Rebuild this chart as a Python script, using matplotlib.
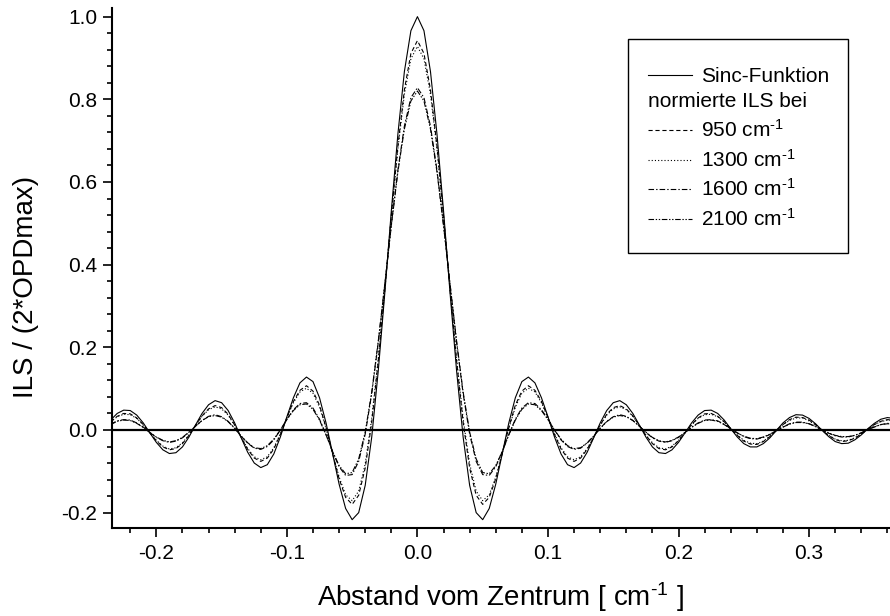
import numpy as np
import matplotlib
matplotlib.use("Agg")
import matplotlib.pyplot as plt
from matplotlib.ticker import MultipleLocator, FormatStrFormatter
from matplotlib.lines import Line2D
from matplotlib.patches import Rectangle

plt.rcParams["font.family"] = ["Liberation Sans", "DejaVu Sans"]
plt.rcParams["mathtext.fontset"] = "custom"
plt.rcParams["mathtext.rm"] = "Liberation Sans"
plt.rcParams["mathtext.it"] = "Liberation Sans:italic"
plt.rcParams["mathtext.default"] = "regular"
plt.rcParams["axes.unicode_minus"] = False
plt.rcParams["lines.scale_dashes"] = False

# distance from line centre [cm^-1], sampled every 0.005
x = np.linspace(-0.235, 0.365, 121)

sinc_vals = [
    0.024, 0.040, 0.048, 0.047, 0.036, 0.017, -0.007, -0.030, -0.048, -0.057,
    -0.055, -0.041, -0.017, 0.012, 0.040, 0.061, 0.071, 0.066, 0.047, 0.017,
    -0.019, -0.054, -0.080, -0.091, -0.084, -0.058, -0.017, 0.032, 0.078, 0.114,
    0.128, 0.117, 0.078, 0.017, -0.057, -0.131, -0.190, -0.217, -0.200, -0.134,
    -0.017, 0.143, 0.331, 0.530, 0.715, 0.867, 0.966, 1.000,
    0.966, 0.867, 0.715, 0.530, 0.331, 0.143, -0.017, -0.134, -0.200, -0.217,
    -0.190, -0.131, -0.057, 0.017, 0.078, 0.117, 0.128, 0.114, 0.078, 0.032,
    -0.017, -0.058, -0.084, -0.091, -0.080, -0.054, -0.019, 0.017, 0.047, 0.066,
    0.071, 0.061, 0.040, 0.012, -0.017, -0.041, -0.055, -0.057, -0.048, -0.030,
    -0.007, 0.017, 0.036, 0.047, 0.048, 0.040, 0.024,
    0.003, -0.017, -0.033, -0.041, -0.041, -0.033, -0.019, -0.001, 0.017, 0.030,
    0.037, 0.036, 0.028, 0.015, -0.001, -0.016, -0.028, -0.033, -0.032, -0.024,
    -0.012, 0.003, 0.016, 0.026, 0.030, 0.028,
]

ils_950 = [
    0.020, 0.033, 0.040, 0.039, 0.029, 0.013, -0.007, -0.026, -0.041, -0.048,
    -0.045, -0.033, -0.013, 0.011, 0.034, 0.051, 0.059, 0.054, 0.038, 0.012,
    -0.018, -0.047, -0.068, -0.076, -0.068, -0.046, -0.011, 0.030, 0.069, 0.096,
    0.107, 0.094, 0.060, 0.006, -0.057, -0.118, -0.163, -0.180, -0.158, -0.092,
    0.019, 0.167, 0.339, 0.519, 0.686, 0.823, 0.911, 0.942,
    0.911, 0.823, 0.686, 0.519, 0.339, 0.167, 0.019, -0.092, -0.158, -0.180,
    -0.163, -0.118, -0.057, 0.006, 0.060, 0.094, 0.107, 0.096, 0.069, 0.030,
    -0.011, -0.046, -0.068, -0.076, -0.068, -0.047, -0.018, 0.012, 0.038, 0.054,
    0.059, 0.051, 0.034, 0.011, -0.013, -0.033, -0.045, -0.048, -0.041, -0.026,
    -0.007, 0.013, 0.029, 0.039, 0.040, 0.033, 0.020,
    0.003, -0.013, -0.027, -0.034, -0.035, -0.028, -0.016, -0.001, 0.013, 0.025,
    0.031, 0.030, 0.024, 0.013, -0.001, -0.013, -0.023, -0.028, -0.026, -0.020,
    -0.010, 0.002, 0.013, 0.021, 0.025, 0.024,
]

ils_1300 = [
    0.019, 0.032, 0.038, 0.037, 0.028, 0.012, -0.006, -0.025, -0.039, -0.046,
    -0.043, -0.031, -0.012, 0.011, 0.033, 0.049, 0.056, 0.051, 0.036, 0.011,
    -0.018, -0.045, -0.065, -0.072, -0.065, -0.043, -0.009, 0.030, 0.066, 0.092,
    0.101, 0.089, 0.055, 0.004, -0.056, -0.114, -0.157, -0.171, -0.148, -0.082,
    0.028, 0.173, 0.341, 0.516, 0.679, 0.812, 0.898, 0.928,
    0.898, 0.812, 0.679, 0.516, 0.341, 0.173, 0.028, -0.082, -0.148, -0.171,
    -0.157, -0.114, -0.056, 0.004, 0.055, 0.089, 0.101, 0.092, 0.066, 0.030,
    -0.009, -0.043, -0.065, -0.072, -0.065, -0.045, -0.018, 0.011, 0.036, 0.051,
    0.056, 0.049, 0.033, 0.011, -0.012, -0.031, -0.043, -0.046, -0.039, -0.025,
    -0.006, 0.012, 0.028, 0.037, 0.038, 0.032, 0.019,
    0.003, -0.012, -0.025, -0.032, -0.033, -0.027, -0.015, -0.001, 0.013, 0.023,
    0.029, 0.029, 0.022, 0.012, -0.001, -0.013, -0.022, -0.026, -0.025, -0.019,
    -0.009, 0.002, 0.013, 0.020, 0.024, 0.022,
]

ils_1600 = [
    0.014, 0.022, 0.025, 0.024, 0.017, 0.007, -0.006, -0.018, -0.026, -0.030,
    -0.027, -0.019, -0.006, 0.009, 0.023, 0.033, 0.037, 0.032, 0.021, 0.004,
    -0.015, -0.032, -0.044, -0.047, -0.040, -0.024, 0.000, 0.026, 0.049, 0.064,
    0.066, 0.053, 0.026, -0.011, -0.052, -0.089, -0.110, -0.108, -0.076, -0.010,
    0.088, 0.212, 0.352, 0.496, 0.628, 0.735, 0.804, 0.828,
    0.804, 0.735, 0.628, 0.496, 0.352, 0.212, 0.088, -0.010, -0.076, -0.108,
    -0.110, -0.089, -0.052, -0.011, 0.026, 0.053, 0.066, 0.064, 0.049, 0.026,
    0.000, -0.024, -0.040, -0.047, -0.044, -0.032, -0.015, 0.004, 0.021, 0.032,
    0.037, 0.033, 0.023, 0.009, -0.006, -0.019, -0.027, -0.030, -0.026, -0.018,
    -0.006, 0.007, 0.017, 0.024, 0.025, 0.022, 0.014,
    0.003, -0.007, -0.016, -0.021, -0.022, -0.018, -0.011, -0.002, 0.007, 0.015,
    0.019, 0.019, 0.015, 0.009, 0.000, -0.008, -0.014, -0.017, -0.017, -0.013,
    -0.007, 0.001, 0.008, 0.013, 0.016, 0.015,
]

ils_2100 = [
    0.013, 0.021, 0.024, 0.023, 0.016, 0.006, -0.006, -0.017, -0.025, -0.029,
    -0.026, -0.018, -0.005, 0.009, 0.023, 0.032, 0.035, 0.031, 0.020, 0.004,
    -0.015, -0.031, -0.043, -0.045, -0.038, -0.022, 0.000, 0.025, 0.047, 0.061,
    0.063, 0.050, 0.024, -0.012, -0.052, -0.086, -0.106, -0.103, -0.070, -0.005,
    0.092, 0.215, 0.353, 0.494, 0.624, 0.728, 0.796, 0.820,
    0.796, 0.728, 0.624, 0.494, 0.353, 0.215, 0.092, -0.005, -0.070, -0.103,
    -0.106, -0.086, -0.052, -0.012, 0.024, 0.050, 0.063, 0.061, 0.047, 0.025,
    0.000, -0.022, -0.038, -0.045, -0.043, -0.031, -0.015, 0.004, 0.020, 0.031,
    0.035, 0.032, 0.023, 0.009, -0.005, -0.018, -0.026, -0.029, -0.025, -0.017,
    -0.006, 0.006, 0.016, 0.023, 0.024, 0.021, 0.013,
    0.003, -0.007, -0.015, -0.020, -0.021, -0.017, -0.010, -0.002, 0.007, 0.014,
    0.018, 0.018, 0.015, 0.008, 0.000, -0.007, -0.013, -0.016, -0.016, -0.013,
    -0.007, 0.001, 0.007, 0.013, 0.015, 0.014,
]

legend_labels = ["Sinc-Funktion", r"950 cm$^{\text{-1}}$", r"1300 cm$^{\text{-1}}$",
                 r"1600 cm$^{\text{-1}}$", r"2100 cm$^{\text{-1}}$"]
legend_header = "normierte ILS bei"

series = [sinc_vals, ils_950, ils_1300, ils_1600, ils_2100]
styles = ["-", (0, (3.0, 2.0)), (0, (0.8, 1.5)),
          (0, (4.0, 1.5, 1.0, 1.5)), (0, (4.0, 1.2, 1.0, 1.2, 1.0, 1.2))]

fig = plt.figure(figsize=(8.9, 6.16), dpi=100)
ax = fig.add_axes([0.1255, 0.1429, 0.8745, 0.8437])

ax.axhline(0.0, color="black", lw=1.6, zorder=1)
for vals, ls in zip(series, styles):
    ax.plot(x, vals, color="black", lw=0.8, linestyle=ls, zorder=2)

ax.set_xlim(-0.2342, 0.362)
ax.set_ylim(-0.2371, 1.0203)
ax.xaxis.set_major_locator(MultipleLocator(0.1))
ax.xaxis.set_minor_locator(MultipleLocator(0.02))
ax.yaxis.set_major_locator(MultipleLocator(0.2))
ax.yaxis.set_minor_locator(MultipleLocator(0.04))
ax.xaxis.set_major_formatter(FormatStrFormatter("%.1f"))
ax.yaxis.set_major_formatter(FormatStrFormatter("%.1f"))

for side in ("top", "right"):
    ax.spines[side].set_visible(False)
for side in ("left", "bottom"):
    ax.spines[side].set_linewidth(1.5)

ax.tick_params(which="major", direction="out", length=6.5, width=1.2,
               labelsize=15, color="black")
ax.tick_params(which="minor", direction="out", length=3.5, width=1.2)
ax.tick_params(axis="x", which="major", pad=5)
ax.tick_params(axis="y", which="major", pad=4)

ax.set_xlabel(r"Abstand vom Zentrum [ cm$^{\text{-1}}$ ]", fontsize=20)
ax.xaxis.label.set_verticalalignment("baseline")
ax.xaxis.set_label_coords(0.5, -0.1501)
ax.set_ylabel("ILS / (2*OPDmax)", fontsize=20)
ax.yaxis.label.set_verticalalignment("baseline")
ax.yaxis.set_label_coords(-0.1007, 0.4637)

# legend box, drawn in figure coordinates
W, H = 890.0, 616.0
fig.patches.append(Rectangle((627.7 / W, 1 - 253.3 / H), 220.0 / W, 214.0 / H,
                             transform=fig.transFigure, facecolor="white",
                             edgecolor="black", lw=1.0, zorder=5))
handle_x0, handle_x1, text_x = 647.7 / W, 691.7 / W, 701.0 / W
baselines = [82.0, 136.7, 166.7, 196.0, 225.7]
for lab, ls, base in zip(legend_labels, styles, baselines):
    yb = 1 - base / H
    yl = 1 - (base - 7.0) / H
    fig.lines.append(Line2D([handle_x0, handle_x1], [yl, yl], color="black",
                            lw=0.8, linestyle=ls, transform=fig.transFigure,
                            zorder=6))
    fig.text(text_x, yb, lab, fontsize=15, va="baseline", ha="left", zorder=6)
fig.text(handle_x0, 1 - 107.3 / H, legend_header, fontsize=15, va="baseline",
         ha="left", zorder=6)

fig.savefig("out.png", dpi=100)
